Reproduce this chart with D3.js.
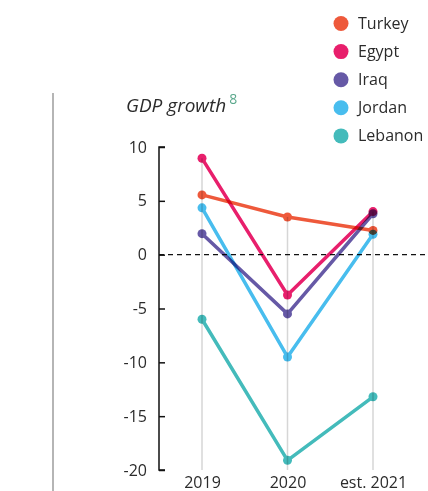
<!DOCTYPE html>
<html>
<head>
<meta charset="utf-8">
<script src="https://cdn.jsdelivr.net/npm/d3@7"></script>
<style>
  html, body { margin: 0; padding: 0; background: #fff; }
  svg { display: block; }
  text { font-family: "Open Sans", sans-serif; fill: #333; }
</style>
</head>
<body>
<svg id="chart" width="428" height="491"></svg>
<script>
const years = ["2019", "2020", "est. 2021"];
const countries = ["Turkey", "Egypt", "Iraq", "Jordan", "Lebanon"];
const colors = ["#ee593b", "#e81f6c", "#6659a6", "#48bdee", "#44bbbb"];
const turkey = [5.55, 3.5, 2.25];
const egypt = [8.95, -3.75, 4.0];
const iraq = [1.95, -5.5, 3.8];
const jordan = [4.35, -9.5, 1.9];
const lebanon = [-6.0, -19.1, -13.2];
const yTicks = [10, 5, 0, -5, -10, -15, -20];
const seriesValues = [turkey, egypt, iraq, jordan, lebanon];

const svg = d3.select("#chart");

const x = d3.scalePoint().domain(years).range([202, 373]);
const y = d3.scaleLinear().domain([-20, 10]).range([470, 147]);

// left divider
svg.append("line").attr("x1", 53).attr("x2", 53).attr("y1", 93).attr("y2", 491)
  .attr("stroke", "#b5b5b5").attr("stroke-width", 2);

// title
const title = svg.append("text").attr("x", 126).attr("y", 112)
  .style("font-size", "19px").style("font-style", "italic").style("fill", "#2b2b2b");
title.append("tspan").text("GDP growth");
title.append("tspan").text("8").attr("dx", 3).attr("dy", -8)
  .style("font-size", "14px").style("font-style", "normal").style("fill", "#5aa88c");

// vertical gridlines from max value to bottom
years.forEach((yr, i) => {
  const maxV = d3.max(seriesValues, s => s[i]);
  svg.append("line").attr("x1", x(yr)).attr("x2", x(yr))
    .attr("y1", y(maxV)).attr("y2", y(-20))
    .attr("stroke", "#d6d6d6").attr("stroke-width", 1.5);
});

// zero line
svg.append("line").attr("x1", 159).attr("x2", 428).attr("y1", y(0)).attr("y2", y(0))
  .attr("stroke", "#111").attr("stroke-width", 1.3).attr("stroke-dasharray", "5,4");

// y axis
const yAxis = d3.axisLeft(y).tickValues(yTicks).tickSize(-6).tickPadding(12)
  .tickFormat(d => d < 0 ? "-" + Math.abs(d) : String(d));
const gy = svg.append("g").attr("transform", "translate(159,0)").call(yAxis);
gy.select(".domain").attr("stroke", "#111").attr("stroke-width", 1.5)
  .attr("d", `M6,${y(10)}H0V${y(-20)}H6`);
gy.selectAll(".tick line").attr("stroke", "#111").attr("stroke-width", 1.5);
gy.selectAll(".tick text").style("font-size", "16px").style("fill", "#2b2b2b")
  .style("font-family", "'Open Sans', sans-serif");

// x labels
const xAxis = d3.axisBottom(x).tickSize(0).tickPadding(0);
const gx = svg.append("g").attr("transform", "translate(0,472)").call(xAxis);
gx.select(".domain").remove();
gx.selectAll(".tick text").style("font-size", "16px").style("fill", "#2b2b2b")
  .style("font-family", "'Open Sans', sans-serif").attr("dy", "1em");

// lines
const line = d3.line().x((d, i) => x(years[i])).y(d => y(d));
const order = [4, 3, 2, 1, 0];
order.forEach(k => {
  const g = svg.append("g").style("mix-blend-mode", "multiply");
  g.append("path").datum(seriesValues[k]).attr("d", line)
    .attr("fill", "none").attr("stroke", colors[k]).attr("stroke-width", 3.5)
    .attr("stroke-linejoin", "round");
  g.selectAll("circle").data(seriesValues[k]).join("circle")
    .attr("cx", (d, i) => x(years[i])).attr("cy", d => y(d)).attr("r", 4.5)
    .attr("fill", colors[k]);
});

// legend
const leg = svg.append("g");
countries.forEach((c, i) => {
  const cy = 23.5 + i * 28.1;
  leg.append("circle").attr("cx", 341).attr("cy", cy).attr("r", 7.5).attr("fill", colors[i]);
  leg.append("text").attr("x", 358).attr("y", cy + 5.5).text(c)
    .style("font-size", "16px").style("fill", "#2b2b2b");
});
</script>
</body>
</html>
